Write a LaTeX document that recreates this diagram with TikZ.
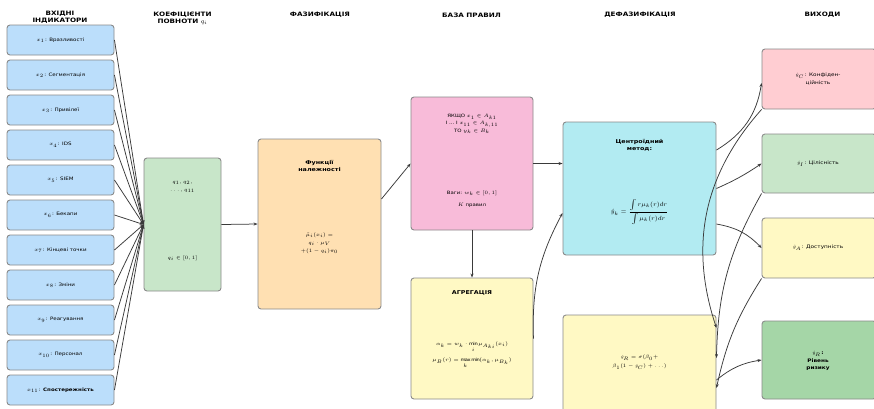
\documentclass[tikz,border=0pt]{standalone}
\usepackage{fontspec}
\setmainfont[FakeStretch=1.2]{DejaVu Sans}
\newfontfamily\lmrom{Latin Modern Roman}
\usetikzlibrary{arrows.meta}
\definecolor{inblue}{HTML}{BBDEFB}
\definecolor{qgreen}{HTML}{C8E6C9}
\definecolor{fuzzor}{HTML}{FFE0B2}
\definecolor{rulepink}{HTML}{F8BBD9}
\definecolor{aggyel}{HTML}{FFF9C4}
\definecolor{cyanb}{HTML}{B2EBF2}
\definecolor{outpink}{HTML}{FFCDD2}
\definecolor{outdark}{HTML}{A5D6A7}
\definecolor{boxgray}{HTML}{8A8A8A}
\definecolor{linegray}{HTML}{3A3A3A}
\newcommand{\cln}{\kern0.6pt:}
\newcommand{\yhat}{\mbox{\lmrom\itshape\mdseries ŷ}}
\tikzset{
  box/.style={draw=boxgray, line width=0.9pt, rounded corners=3pt, inner sep=0pt},
  inbox/.style={box, fill=inblue, minimum width=107pt, minimum height=30pt, font=\fontsize{4.6}{5.5}\selectfont},
  hdr/.style={font=\bfseries\fontsize{6}{7}\selectfont, align=center, inner sep=0pt},
  ttl/.style={font=\bfseries\fontsize{5.3}{6.5}\selectfont, align=center, inner sep=0pt},
  lbl/.style={align=center, inner sep=0pt, font=\fontsize{4.6}{7}\selectfont},
  arr/.style={draw=linegray, line width=0.75pt, -{Stealth[length=4pt,width=3pt]}},
}
\begin{document}
\begin{tikzpicture}[x=1pt,y=1pt]
\useasboundingbox (0,0) rectangle (874,-408);
\clip (0,0) rectangle (874,-408);
\fill[white] (0,0) rectangle (874,-408);

% headers
\node[hdr] (h1) at (60,-17.5) {ВХІДНІ\\ІНДИКАТОРИ};
\node[hdr] (h2) at (182.5,-18) {КОЕФІЦІЄНТИ\\ПОВНОТИ $q_i$};
\node[hdr] (h3) at (320,-15) {ФАЗИФІКАЦІЯ};
\node[hdr] (h4) at (471.5,-15) {БАЗА ПРАВИЛ};
\node[hdr] (h5) at (640,-15) {ДЕФАЗИФІКАЦІЯ};
\node[hdr] (h6) at (822.5,-15) {ВИХОДИ};

% inputs
\foreach \i/\t in {1/{$x_{1}$\cln{} Вразливості},2/{$x_{2}$\cln{} Сегментація},3/{$x_{3}$\cln{} Привілеї},4/{$x_{4}$\cln{} IDS},5/{$x_{5}$\cln{} SIEM},6/{$x_{6}$\cln{} Бекапи},7/{$x_{7}$\cln{} Кінцеві точки},8/{$x_{8}$\cln{} Зміни},9/{$x_{9}$\cln{} Реагування},10/{$x_{10}$\cln{} Персонал},11/{$x_{11}$\cln{} \textbf{Спостережність}}}
  \node[inbox] (in\i) at (60.5,{-(40+35*(\i-1))}) {\t};

% q box
\node[box, fill=qgreen, minimum width=77pt, minimum height=133pt] (q) at (182.5,-224.5) {};
\node[lbl, font=\fontsize{4.6}{8}\selectfont] (qt1) at (182.5,-187) {$q_1, q_2,$\\$\ldots, q_{11}$};
\node[lbl] (qt2) at (182.5,-258) {$q_i \in [0, 1]$};

% fuzzification
\node[box, fill=fuzzor, minimum width=123pt, minimum height=170pt] (fuzz) at (319.5,-224) {};
\node[ttl] (ft1) at (319.5,-166) {Функції\\належності};
\node[lbl, font=\fontsize{4.6}{8}\selectfont] (ft2) at (319.5,-243) {$\tilde{\mu}_i(x_i) =$\\$q_i \cdot \mu_V$\\$+(1-q_i)\pi_0$};

% rules
\node[box, fill=rulepink, minimum width=122pt, minimum height=133pt] (rules) at (472,-163.5) {};
\node[lbl, font=\fontsize{4.5}{7.2}\selectfont] (rt1) at (472,-124) {ЯКЩО $x_1 \in A_{k1}$\\І \ldots\ І $x_{11} \in A_{k,11}$\\ТО $y_k \in B_k$};
\node[lbl, font=\fontsize{4.5}{6.5}\selectfont] (rt2) at (472,-193) {Ваги: $w_k \in [0, 1]$};
\node[lbl, font=\fontsize{4.5}{6.5}\selectfont] (rt3) at (472,-205) {$K$ правил};

% aggregation
\node[box, fill=aggyel, minimum width=122pt, minimum height=121pt] (agg) at (472,-338.5) {};
\node[ttl] (at1) at (472,-293) {АГРЕГАЦІЯ};
\node[lbl, font=\fontsize{4.3}{6}\selectfont] (at2) at (472,-347) {$\alpha_k = w_k \cdot \min\limits_i \mu_{A_{ki}}(x_i)$};
\node[lbl, font=\fontsize{4.3}{6}\selectfont] (at3) at (472,-363) {$\mu_B(r) = \max\limits_k \min(\alpha_k, \mu_{B_k})$};

% defuzzification
\node[box, fill=cyanb, minimum width=153pt, minimum height=133pt] (cyan) at (639.5,-188.5) {};
\node[ttl] (ct1) at (639.5,-145.5) {Центроїдний\\метод:};
\node[lbl, font=\fontsize{6.3}{8}\selectfont] (ct2) at (639.5,-212) {$\yhat_k = \displaystyle\frac{\int r\mu_k(r)dr}{\int \mu_k(r)dr}$};

\node[box, fill=aggyel, minimum width=153pt, minimum height=115pt] (form) at (639.5,-372.5) {};
\node[lbl, font=\fontsize{4.5}{9}\selectfont] (fm1) at (639.5,-362) {$\yhat_R = \sigma(\beta_0 +$\\$\beta_1(1-\yhat_C) + \ldots)$};

% outputs
\node[box, fill=outpink, minimum width=114pt, minimum height=60pt] (outC) at (819,-79) {};
\node[lbl, font=\fontsize{4.8}{7.5}\selectfont] (oc) at (818,-79) {$\yhat_C$\cln{} Конфіден-\\ційність};
\node[box, fill=qgreen, minimum width=114pt, minimum height=59pt] (outI) at (819,-163.5) {};
\node[lbl, font=\fontsize{4.8}{7}\selectfont] (oi) at (818,-164) {$\yhat_I$\cln{} Цілісність};
\node[box, fill=aggyel, minimum width=114pt, minimum height=60pt] (outA) at (819,-248) {};
\node[lbl, font=\fontsize{4.8}{7}\selectfont] (oa) at (818,-248) {$\yhat_A$\cln{} Доступність};
\node[box, fill=outdark, minimum width=114pt, minimum height=78pt] (outR) at (819,-360) {};
\node[lbl, font=\bfseries\fontsize{4.8}{7.5}\selectfont] (or) at (818,-361) {$\yhat_R$\cln\\Рівень\\ризику};

% connectors
\foreach \i in {1,...,11} \draw[arr] (in\i.east) -- (q.west);
\draw[arr] (q.east) -- (fuzz.west);
\draw[arr] ([yshift=25pt]fuzz.east) -- (rules.west);
\draw[arr] (rules.east) -- (rules.east -| cyan.west);
\draw[arr] (rules.south) -- (agg.north);
\draw[arr] (agg.east) to[bend left=15] ([yshift=-24.5pt]cyan.west);

\draw[arr] ([yshift=38.5pt]cyan.east) to[bend right=25] ([yshift=-4pt]outC.west);
\draw[arr] (cyan.east) to[bend right=5] (outI.west);
\draw[arr] ([yshift=-35.5pt]cyan.east) to[bend left=18] (outA.west);
\draw[arr] (outC.south west) to[bend right=30] ([yshift=44.5pt]form.east);
\draw[arr] (outI.south west) to[bend right=14] ([yshift=14.5pt]form.east);
\draw[arr] (outA.south west) to[bend right=10] ([yshift=-15.5pt]form.east);
\draw[arr] ([yshift=-7.5pt]form.east) to[bend left=15] (outR.west);
\end{tikzpicture}
\end{document}
